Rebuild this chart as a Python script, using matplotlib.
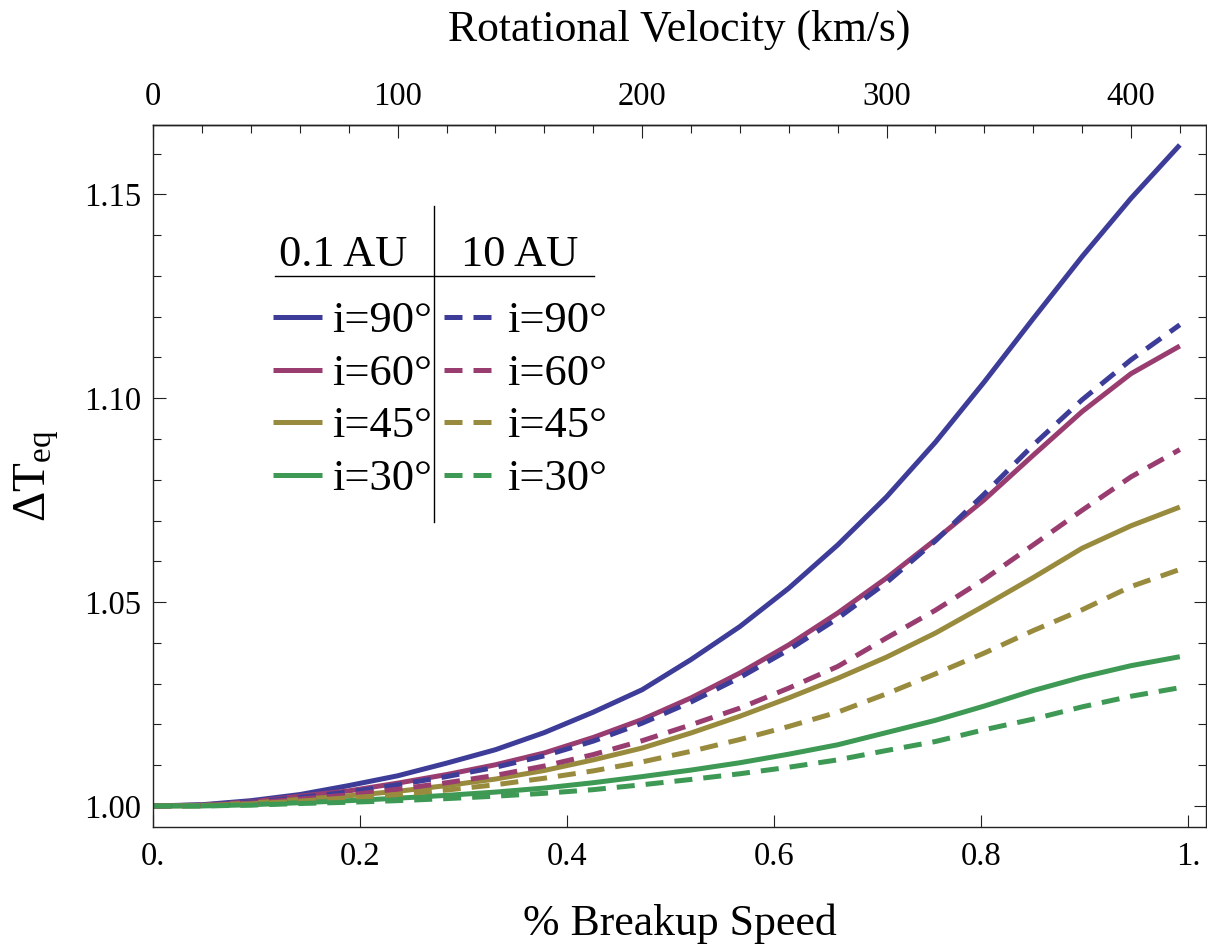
import matplotlib
matplotlib.use("Agg")
import matplotlib.pyplot as plt
from matplotlib.lines import Line2D
from matplotlib.ticker import MultipleLocator, FixedLocator, FormatStrFormatter
import numpy as np

plt.rcParams['font.family'] = 'Liberation Serif'
plt.rcParams['mathtext.fontset'] = 'custom'
plt.rcParams['mathtext.rm'] = 'Liberation Serif'
plt.rcParams['mathtext.it'] = 'Liberation Serif:italic'

# rotational velocity of each sample (km/s) and the breakup speed
v_break = 423.5
velocity = [0, 20, 40, 60, 80, 100, 120, 140, 160, 180, 200,
            220, 240, 260, 280, 300, 320, 340, 360, 380, 400, 420]

# 0.1 AU (solid)
near_90 = [1.0, 1.0003, 1.0013, 1.0028, 1.0050, 1.0074, 1.0105, 1.0138, 1.0180, 1.0230, 1.0285,
           1.0359, 1.0440, 1.0534, 1.0640, 1.0758, 1.0892, 1.1040, 1.1195, 1.1347, 1.1490, 1.1621]
near_60 = [1.0, 1.0002, 1.0010, 1.0024, 1.0037, 1.0056, 1.0077, 1.0101, 1.0130, 1.0168, 1.0212,
           1.0265, 1.0326, 1.0395, 1.0473, 1.0559, 1.0653, 1.0751, 1.0860, 1.0967, 1.1060, 1.1128]
near_45 = [1.0, 1.0001, 1.0007, 1.0016, 1.0025, 1.0036, 1.0050, 1.0066, 1.0087, 1.0113, 1.0142,
           1.0179, 1.0220, 1.0265, 1.0313, 1.0365, 1.0424, 1.0491, 1.0560, 1.0632, 1.0687, 1.0733]
near_30 = [1.0, 1.0000, 1.0003, 1.0008, 1.0013, 1.0019, 1.0026, 1.0034, 1.0044, 1.0057, 1.0072,
           1.0088, 1.0106, 1.0127, 1.0150, 1.0180, 1.0210, 1.0245, 1.0283, 1.0316, 1.0344, 1.0366]

# 10 AU (dashed)
far_90 = [1.0, 1.0002, 1.0009, 1.0021, 1.0034, 1.0052, 1.0072, 1.0095, 1.0123, 1.0159, 1.0203,
          1.0255, 1.0315, 1.0383, 1.0460, 1.0548, 1.0650, 1.0765, 1.0885, 1.0996, 1.1094, 1.1180]
far_60 = [1.0, 1.0001, 1.0007, 1.0017, 1.0027, 1.0041, 1.0057, 1.0075, 1.0098, 1.0126, 1.0160,
          1.0199, 1.0240, 1.0289, 1.0342, 1.0412, 1.0480, 1.0556, 1.0640, 1.0725, 1.0807, 1.0874]
far_45 = [1.0, 1.0001, 1.0005, 1.0012, 1.0020, 1.0028, 1.0039, 1.0052, 1.0068, 1.0086, 1.0108,
          1.0134, 1.0163, 1.0195, 1.0230, 1.0275, 1.0324, 1.0375, 1.0430, 1.0481, 1.0538, 1.0580]
far_30 = [1.0, 1.0000, 1.0002, 1.0006, 1.0009, 1.0013, 1.0018, 1.0024, 1.0031, 1.0040, 1.0052,
          1.0065, 1.0079, 1.0095, 1.0113, 1.0136, 1.0158, 1.0187, 1.0213, 1.0243, 1.0269, 1.0290]

labels = ['i=90°', 'i=60°', 'i=45°', 'i=30°']
colors = ['#3d3d99', '#993d71', '#998b3d', '#3d9954']
near = [near_90, near_60, near_45, near_30]
far = [far_90, far_60, far_45, far_30]

xticks = [0, 0.2, 0.4, 0.6, 0.8, 1.0]
xticklabels = ['0.', '0.2', '0.4', '0.6', '0.8', '1.']
vticks = [0, 100, 200, 300, 400]
vminor = [20, 40, 60, 80, 120, 140, 160, 180, 220, 240, 260, 280,
          320, 340, 360, 380, 420]

W, H = 1207, 949
fig = plt.figure(figsize=(W / 100, H / 100), dpi=100)
ax = fig.add_axes([0.1270, 0.1289, 0.8718, 0.7394])

x = np.array(velocity) / v_break
lw = 3.6
dash = (3.6, 2.2)
for ys, c in zip(near, colors):
    ax.plot(x, ys, color=c, lw=lw, solid_capstyle='butt')
for ys, c in zip(far, colors):
    ax.plot(x, ys, color=c, lw=lw, dashes=dash, dash_capstyle='butt')

ax.set_xlim(0, 1.0166)
ax.set_ylim(0.99492, 1.1670)

ax.xaxis.set_major_locator(FixedLocator(xticks))
ax.set_xticklabels(xticklabels)
ax.yaxis.set_major_locator(MultipleLocator(0.05))
ax.yaxis.set_minor_locator(MultipleLocator(0.01))
ax.yaxis.set_major_formatter(FormatStrFormatter('%.2f'))

ax.tick_params(which='both', direction='in', top=False, right=True,
               width=0.8, labelsize=23.5, color='#222222')
ax.tick_params(which='major', length=9)
ax.tick_params(which='minor', length=5.8)
ax.tick_params(axis='x', pad=11)
ax.tick_params(axis='y', pad=9)
for s in ax.spines.values():
    s.set_linewidth(1.0)
    s.set_color('#222222')

secax = ax.secondary_xaxis('top', functions=(lambda t: t * v_break, lambda s: s / v_break))
secax.xaxis.set_major_locator(FixedLocator(vticks))
secax.xaxis.set_minor_locator(FixedLocator(vminor))
secax.tick_params(which='both', direction='in', labelsize=23.5, width=0.8, pad=9, color='#222222')
secax.tick_params(which='major', length=9)
secax.tick_params(which='minor', length=5.8)
secax.spines['top'].set_linewidth(1.0)
secax.set_xlabel('Rotational Velocity (km/s)', fontsize=31.5, labelpad=30)

ax.set_xlabel('% Breakup Speed', fontsize=31.5, labelpad=22)
ax.set_ylabel('ΔT$_{\\rm eq}$', fontsize=34, labelpad=16)

# legend table drawn by hand
def fx(px):
    return px / W

def fy(py):
    return 1 - py / H

fig.text(fx(343), fy(266), '0.1 AU', fontsize=32, ha='center', va='baseline')
fig.text(fx(520), fy(266), '10 AU', fontsize=32, ha='center', va='baseline')
fig.add_artist(Line2D([fx(275), fx(594)], [fy(276), fy(276)], color='black', lw=1.0,
                      transform=fig.transFigure))
fig.add_artist(Line2D([fx(434), fx(434)], [fy(206), fy(522)], color='black', lw=1.0,
                      transform=fig.transFigure))
row_y = [317, 370, 422, 475]
for lab, c, ry in zip(labels, colors, row_y):
    fig.add_artist(Line2D([fx(273), fx(322)], [fy(ry), fy(ry)], color=c, lw=lw,
                          solid_capstyle='butt', transform=fig.transFigure))
    fig.add_artist(Line2D([fx(444), fx(492)], [fy(ry), fy(ry)], color=c, lw=lw,
                          dashes=dash, dash_capstyle='butt', transform=fig.transFigure))
    fig.text(fx(332), fy(ry + 15), lab, fontsize=32, ha='left', va='baseline')
    fig.text(fx(507), fy(ry + 15), lab, fontsize=32, ha='left', va='baseline')

fig.savefig('out.png', dpi=100)
